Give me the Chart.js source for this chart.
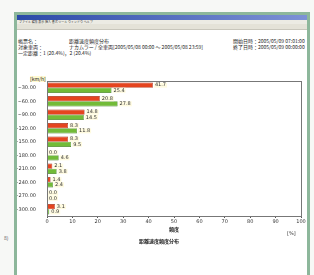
<!DOCTYPE html>
<html>
<head>
<meta charset="utf-8">
<script src="https://cdn.jsdelivr.net/npm/chart.js@4.4.1/dist/chart.umd.min.js"></script>
<style>
  body { margin: 0; width: 314px; height: 275px; background: #f7f8f6; overflow: hidden; font-family: "Noto Sans CJK JP", sans-serif; }
  #win { position: absolute; left: 14px; top: 12px; width: 290px; height: 270px; border: 3px solid #8db79b; border-bottom: none; background: #fff; }
  #titlebar { height: 5px; background: linear-gradient(to right, #2a4aa8, #7d92d6); }
  #menubar { height: 4px; background: #ecebe4; font-size: 3px; color: #333; line-height: 4px; padding-left: 2px; }
  #toolbar { height: 5px; background: #e4e2d8; border-bottom: 1px solid #c8c6bc; }
  .txt { position: absolute; font-size: 5px; line-height: 6px; color: #222; white-space: nowrap; }
  #chartbox { position: absolute; left: 0px; top: 60px; width: 290px; height: 172px; }
  #side { position: absolute; left: 4px; top: 234px; font-size: 5px; color: #555; }
</style>
</head>
<body>
<div id="side">8)</div>
<div id="win">
  <div id="titlebar"></div>
  <div id="menubar">ファイル 編集 表示 挿入 書式 ツール ウィンドウ ヘルプ</div>
  <div id="toolbar"></div>
  <div class="txt" style="left:1px; top:23px;">帳票名：</div>
  <div class="txt" style="left:52px; top:23px;">距離速度頻度分布</div>
  <div class="txt" style="left:1px; top:29px;">対象車両：</div>
  <div class="txt" style="left:52px; top:29px;">ナカムラー / 全車両[2005/05/08 00:00 〜 2005/05/08 23:59]</div>
  <div class="txt" style="left:1px; top:35px;">一定距離：1 (20.4%)，2 (20.4%)</div>
  <div class="txt" style="left:216px; top:23px;">開始日時：2005/05/09 07:01:00</div>
  <div class="txt" style="left:216px; top:29px;">終了日時：2005/05/09 00:00:00</div>
  <div class="txt" style="left:13px; top:61px; background:#fff9d0;">[km/h]</div>
  <div id="chartbox"><canvas id="c"></canvas></div>
</div>
<script>
// Categories (speed bands) and series values in percent
const categories = ['~30.00', '~60.00', '~90.00', '~120.00', '~150.00', '~180.00', '~210.00', '~240.00', '~270.00', '~300.00'];
const series1 = [41.7, 20.8, 14.8, 8.3, 8.3, 0.0, 2.1, 1.4, 0.0, 3.1];
const series2 = [25.4, 27.8, 14.5, 11.8, 9.5, 4.6, 3.8, 2.4, 0.0, 0.9];
const xTicks = [0, 10, 20, 30, 40, 50, 60, 70, 80, 90, 100];

const tinyFont = { family: 'DejaVu Sans', size: 5 };

// Draw value labels next to each bar and a frame round the plot area
const valueLabels = {
    id: 'valueLabels',
    afterDatasetsDraw(chart) {
        const ctx = chart.ctx;
        ctx.save();
        ctx.font = '5px DejaVu Sans';
        ctx.textBaseline = 'middle';
        chart.data.datasets.forEach((ds, i) => {
            chart.getDatasetMeta(i).data.forEach((bar, j) => {
                const text = ds.data[j].toFixed(1);
                const x = bar.x + 2;
                const w = ctx.measureText(text).width;
                ctx.fillStyle = '#fffbe0';
                ctx.fillRect(x - 1, bar.y - 2.5, w + 2, 5);
                ctx.fillStyle = '#333';
                ctx.fillText(text, x, bar.y);
            });
        });
        const a = chart.chartArea;
        ctx.strokeStyle = '#777';
        ctx.lineWidth = 1;
        ctx.strokeRect(a.left + 0.5, a.top + 0.5, a.right - a.left, a.bottom - a.top);
        // unit next to the x axis
        ctx.fillStyle = '#333';
        ctx.fillText('[%]', a.right - 14, a.bottom + 18);
        ctx.restore();
    }
};

new Chart(document.getElementById('c'), {
    type: 'bar',
    data: {
        labels: categories,
        datasets: [
            {
                label: '1',
                data: series1,
                backgroundColor: '#e5441f',
                borderColor: '#9a2412',
                borderWidth: 0.6,
                barPercentage: 1,
                categoryPercentage: 0.76
            },
            {
                label: '2',
                data: series2,
                backgroundColor: '#72bb38',
                borderColor: '#3c7a1c',
                borderWidth: 0.6,
                barPercentage: 1,
                categoryPercentage: 0.76
            }
        ]
    },
    options: {
        indexAxis: 'y',
        responsive: true,
        maintainAspectRatio: false,
        animation: false,
        layout: { padding: { left: 0, right: 6, top: 6, bottom: 0 } },
        plugins: {
            legend: { display: false },
            tooltip: { enabled: false },
            title: {
                display: true,
                position: 'bottom',
                text: '距離速度頻度分布',
                color: '#222',
                font: { family: 'Noto Sans CJK JP', size: 5 },
                padding: { top: 6, bottom: 3 }
            }
        },
        scales: {
            x: {
                min: 0,
                max: 100,
                afterBuildTicks: axis => { axis.ticks = xTicks.map(v => ({ value: v })); },
                grid: { drawOnChartArea: false, tickLength: 2, color: '#555' },
                border: { color: '#555' },
                ticks: { font: tinyFont, color: '#333', padding: 1, maxRotation: 0 },
                title: {
                    display: true,
                    text: '頻度',
                    color: '#222',
                    font: { family: 'Noto Sans CJK JP', size: 5, weight: 'bold' },
                    padding: { top: 0, bottom: 0 }
                }
            },
            y: {
                grid: { display: false },
                border: { color: '#555' },
                afterFit: axis => { axis.width = 30; },
                ticks: { font: tinyFont, color: '#333', padding: 3 }
            }
        }
    },
    plugins: [valueLabels]
});
</script>
</body>
</html>
